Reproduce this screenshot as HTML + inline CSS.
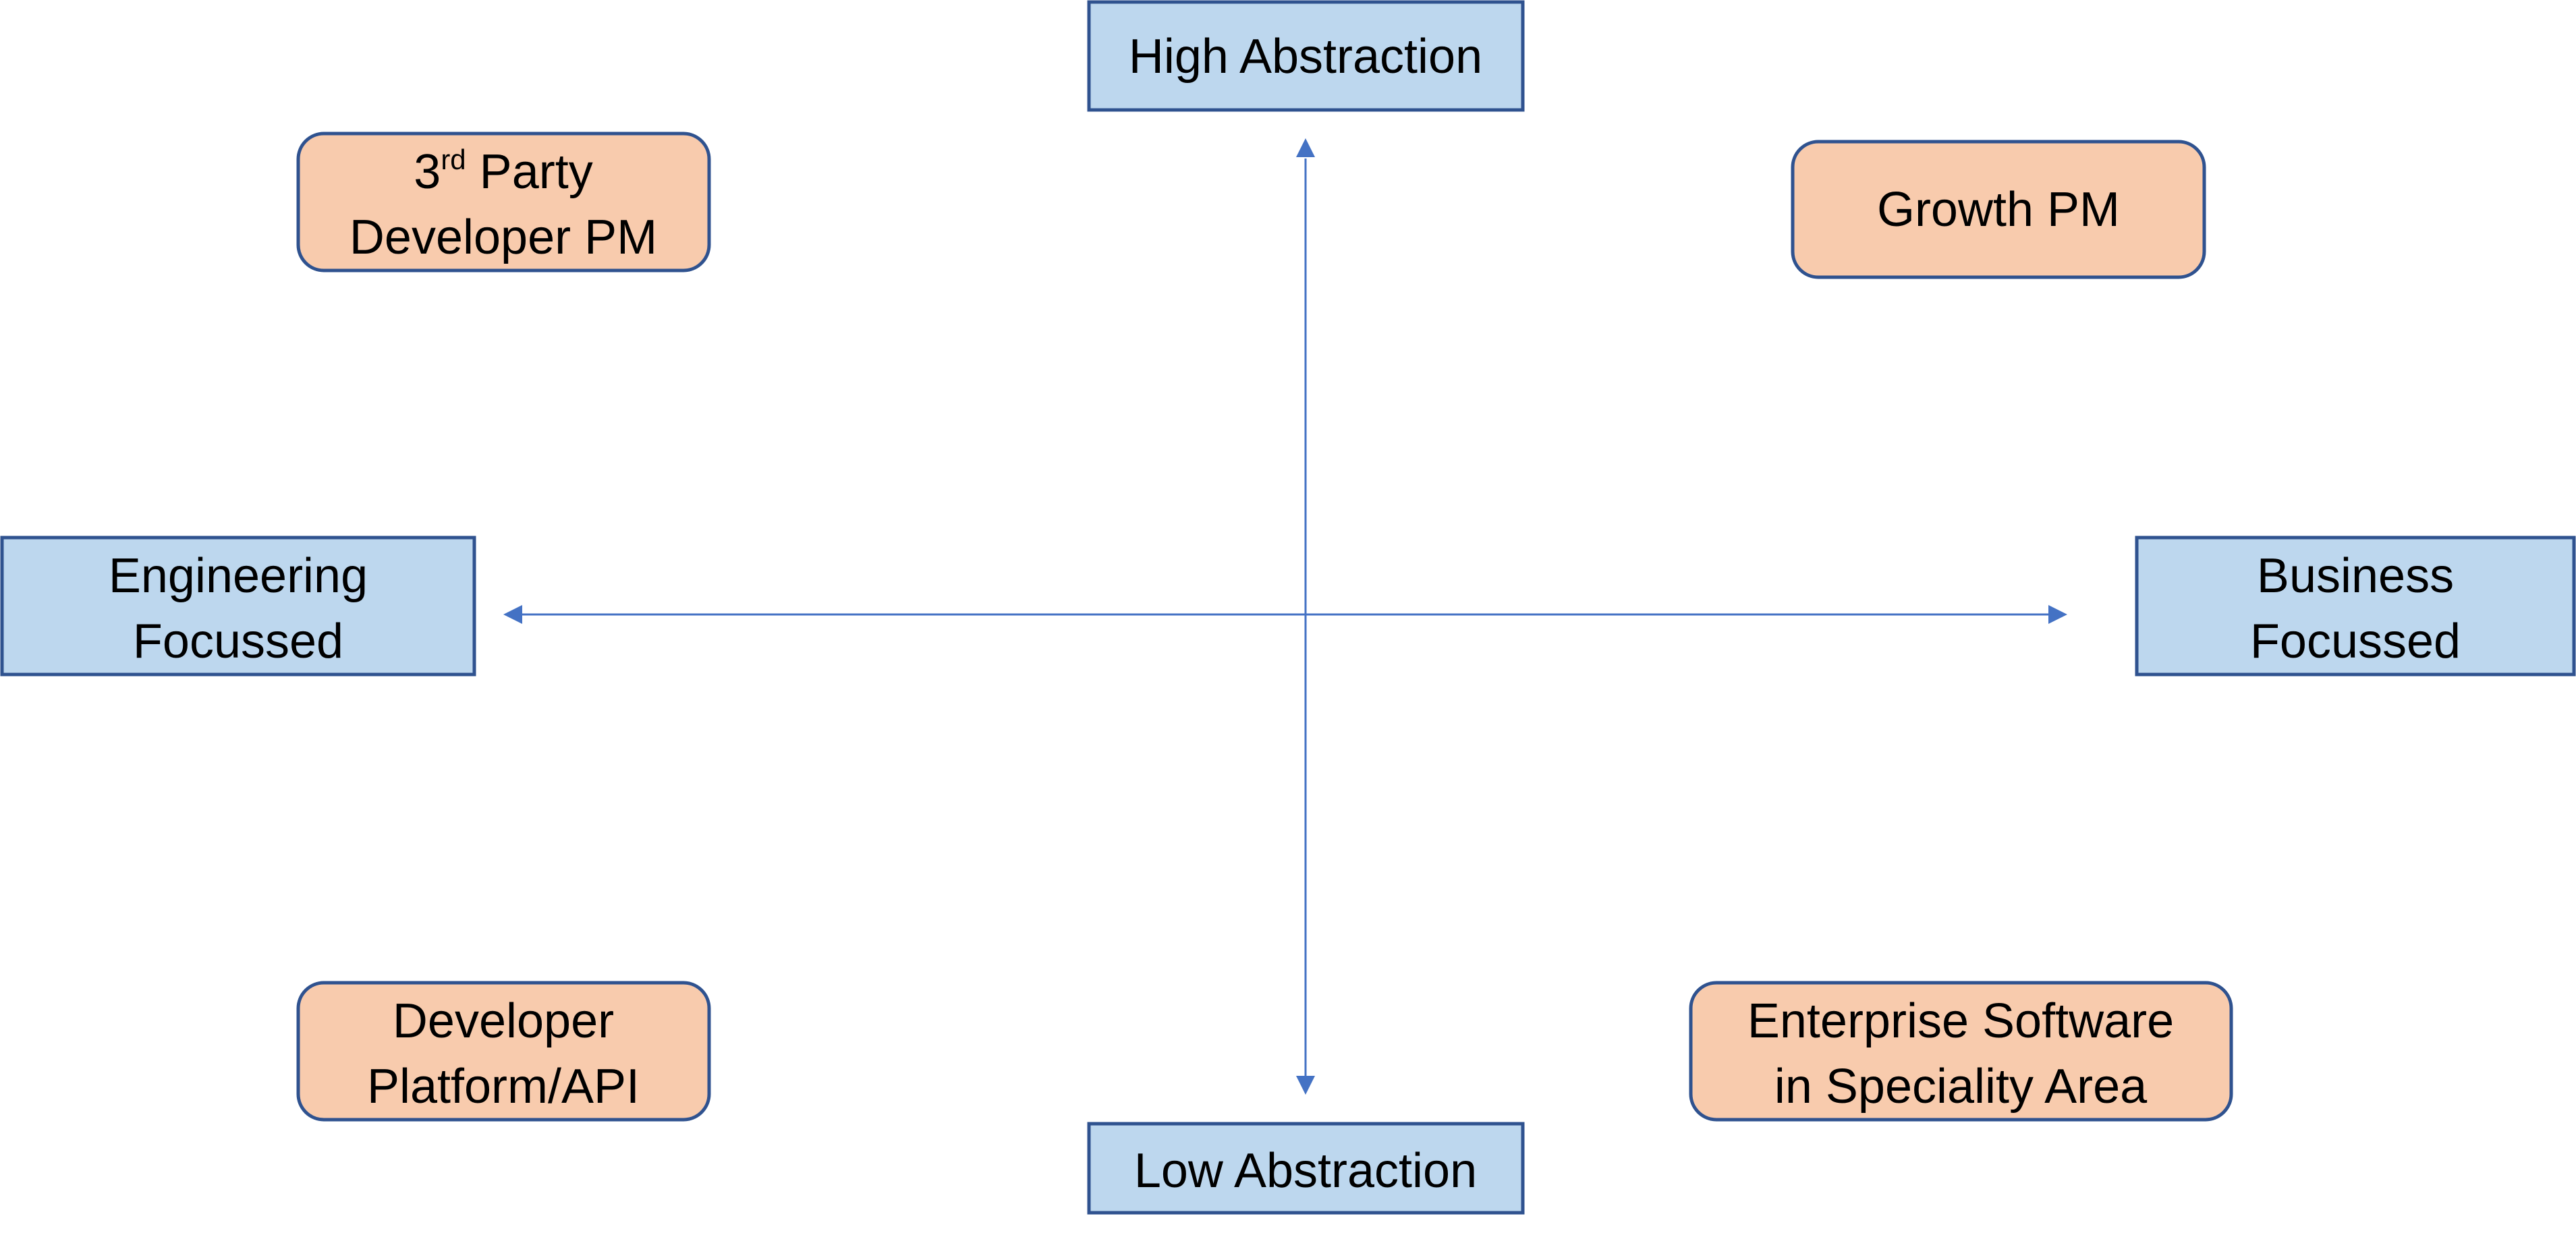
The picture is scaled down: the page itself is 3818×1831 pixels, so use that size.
<!DOCTYPE html>
<html><head><meta charset="utf-8"><style>
html,body{margin:0;padding:0;background:#fff;}
svg{display:block;}
text{font-family:"Liberation Sans",sans-serif;font-size:72px;fill:#000;text-anchor:middle;}
</style></head><body>
<svg width="3818" height="1831" viewBox="0 0 3818 1831" xmlns="http://www.w3.org/2000/svg">
<g stroke="#4472c4" stroke-width="3" fill="#4472c4">
<line x1="1935" y1="235" x2="1935" y2="1600"/>
<line x1="772" y1="911" x2="3040" y2="911"/>
<polygon points="1935,205 1921,233 1949,233" stroke="none"/>
<polygon points="1935,1623 1921,1595 1949,1595" stroke="none"/>
<polygon points="746,911 774,897 774,925" stroke="none"/>
<polygon points="3064,911 3036,897 3036,925" stroke="none"/>
</g>
<g fill="#bdd7ee" stroke="#2f528f" stroke-width="5">
<rect x="1614" y="3" width="643" height="160"/>
<rect x="1614" y="1666" width="643" height="132"/>
<rect x="3" y="797" width="700" height="203"/>
<rect x="3167" y="797" width="648" height="203"/>
</g>
<g fill="#f8cbad" stroke="#2f528f" stroke-width="5">
<rect x="442" y="198" width="609" height="203" rx="38"/>
<rect x="2657" y="210" width="610" height="201" rx="38"/>
<rect x="442" y="1457" width="609" height="203" rx="38"/>
<rect x="2506" y="1457" width="801" height="203" rx="38"/>
</g>
<text x="1935" y="108">High Abstraction</text>
<text x="1935" y="1760">Low Abstraction</text>
<text x="353" y="878">Engineering</text>
<text x="353" y="975">Focussed</text>
<text x="3491" y="878">Business</text>
<text x="3491" y="975">Focussed</text>
<text x="746" y="279">3<tspan font-size="42" dy="-28">rd</tspan><tspan dy="28"> Party</tspan></text>
<text x="746" y="376">Developer PM</text>
<text x="2962" y="335">Growth PM</text>
<text x="746" y="1538">Developer</text>
<text x="746" y="1635">Platform/API</text>
<text x="2906" y="1538">Enterprise Software</text>
<text x="2906" y="1635">in Speciality Area</text>
</svg>
</body></html>
